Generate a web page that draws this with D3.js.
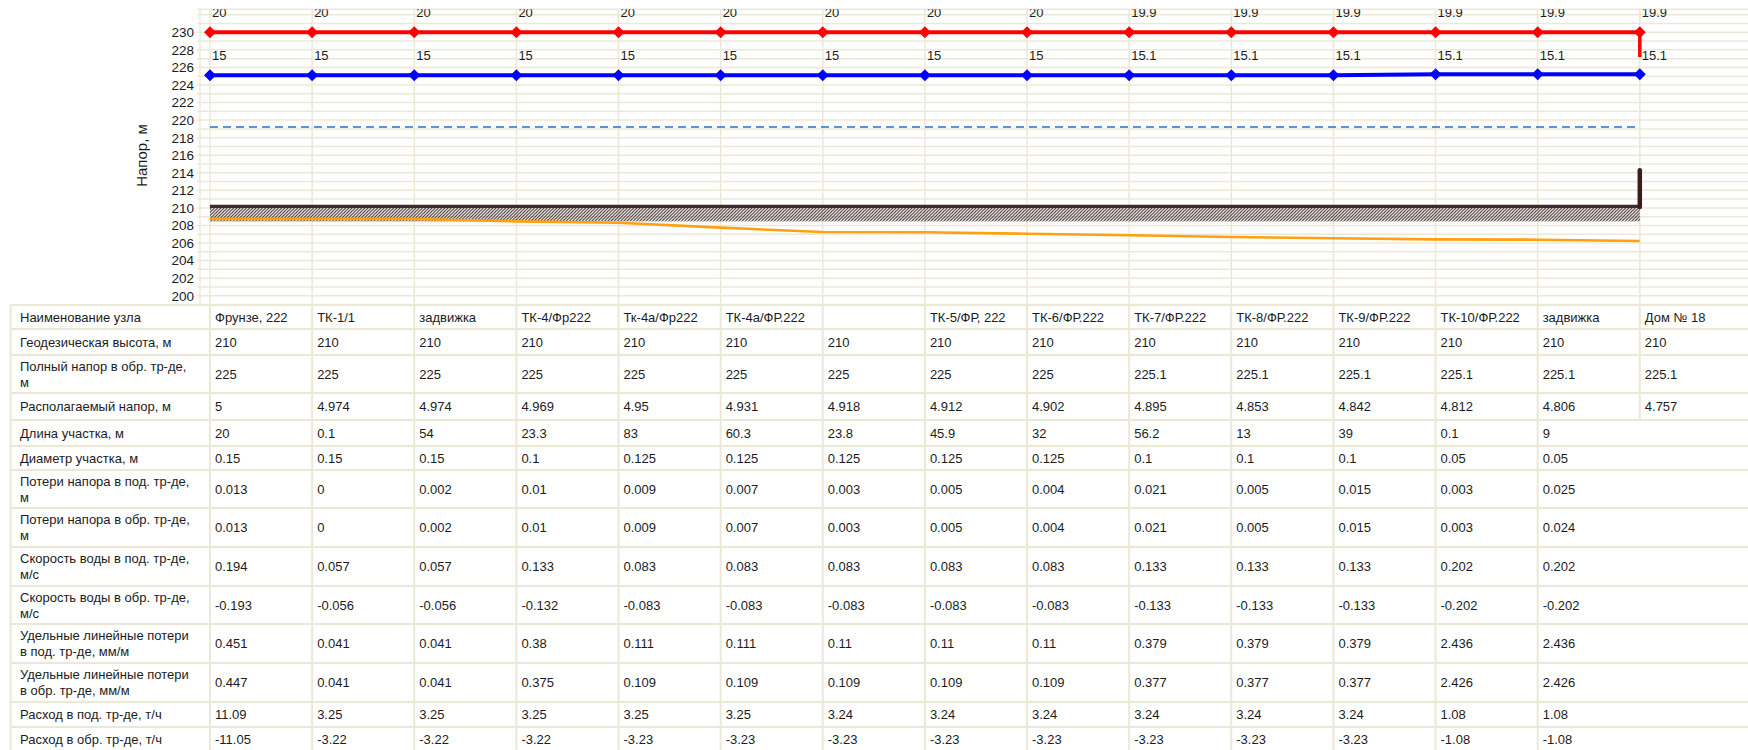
<!DOCTYPE html>
<html><head><meta charset="utf-8">
<script src="https://cdn.jsdelivr.net/npm/d3@7"></script>
<style>body{margin:0;background:#fff;overflow:hidden}svg{display:block;font-family:"Liberation Sans",Arial,sans-serif}</style>
</head><body><svg id="c" width="1748" height="750"></svg>
<script>
// ---------- DATA ----------
const nodeNames = ["Фрунзе, 222","ТК-1/1","задвижка","ТК-4/Фр222","Тк-4а/Фр222","ТК-4а/ФР.222","","ТК-5/ФР, 222","ТК-6/ФР.222","ТК-7/ФР.222","ТК-8/ФР.222","ТК-9/ФР.222","ТК-10/ФР.222","задвижка","Дом № 18"];
const supplyHead   = [230,230,230,230,230,230,230,230,230,230,230,230,230,230,230];
const supplyLabels = ["20","20","20","20","20","20","20","20","20","19.9","19.9","19.9","19.9","19.9","19.9"];
const supplyEndDrop = 227.2;
const returnHead   = [225.1,225.1,225.1,225.1,225.1,225.1,225.1,225.1,225.1,225.1,225.1,225.1,225.22,225.22,225.22];
const returnLabels = ["15","15","15","15","15","15","15","15","15","15.1","15.1","15.1","15.1","15.1","15.1"];
const staticHead   = 219.2;
const groundLevel  = [210,210,210,210,210,210,210,210,210,210,210,210,210,210,210];
const pipeLevel    = [208.74,208.74,208.74,208.47,208.31,207.75,207.25,207.22,207.06,206.88,206.69,206.54,206.42,206.38,206.23];
const buildingRiser = [210, 214.3];
const yTicks = [200,202,204,206,208,210,212,214,216,218,220,222,224,226,228,230];

const rowLabels = [
  ["Наименование узла"],
  ["Геодезическая высота, м"],
  ["Полный напор в обр. тр-де,","м"],
  ["Располагаемый напор, м"],
  ["Длина участка, м"],
  ["Диаметр участка, м"],
  ["Потери напора в под. тр-де,","м"],
  ["Потери напора в обр. тр-де,","м"],
  ["Скорость воды в под. тр-де,","м/с"],
  ["Скорость воды в обр. тр-де,","м/с"],
  ["Удельные линейные потери","в под. тр-де, мм/м"],
  ["Удельные линейные потери","в обр. тр-де, мм/м"],
  ["Расход в под. тр-де, т/ч"],
  ["Расход в обр. тр-де, т/ч"]
];
const geoHeight   = ["210","210","210","210","210","210","210","210","210","210","210","210","210","210","210"];
const fullHead    = ["225","225","225","225","225","225","225","225","225","225.1","225.1","225.1","225.1","225.1","225.1"];
const availHead   = ["5","4.974","4.974","4.969","4.95","4.931","4.918","4.912","4.902","4.895","4.853","4.842","4.812","4.806","4.757"];
const segLength   = ["20","0.1","54","23.3","83","60.3","23.8","45.9","32","56.2","13","39","0.1","9"];
const segDiameter = ["0.15","0.15","0.15","0.1","0.125","0.125","0.125","0.125","0.125","0.1","0.1","0.1","0.05","0.05"];
const lossSupply  = ["0.013","0","0.002","0.01","0.009","0.007","0.003","0.005","0.004","0.021","0.005","0.015","0.003","0.025"];
const lossReturn  = ["0.013","0","0.002","0.01","0.009","0.007","0.003","0.005","0.004","0.021","0.005","0.015","0.003","0.024"];
const velSupply   = ["0.194","0.057","0.057","0.133","0.083","0.083","0.083","0.083","0.083","0.133","0.133","0.133","0.202","0.202"];
const velReturn   = ["-0.193","-0.056","-0.056","-0.132","-0.083","-0.083","-0.083","-0.083","-0.083","-0.133","-0.133","-0.133","-0.202","-0.202"];
const specSupply  = ["0.451","0.041","0.041","0.38","0.111","0.111","0.11","0.11","0.11","0.379","0.379","0.379","2.436","2.436"];
const specReturn  = ["0.447","0.041","0.041","0.375","0.109","0.109","0.109","0.109","0.109","0.377","0.377","0.377","2.426","2.426"];
const flowSupply  = ["11.09","3.25","3.25","3.25","3.25","3.25","3.24","3.24","3.24","3.24","3.24","3.24","1.08","1.08"];
const flowReturn  = ["-11.05","-3.22","-3.22","-3.22","-3.23","-3.23","-3.23","-3.23","-3.23","-3.23","-3.23","-3.23","-1.08","-1.08"];
const rowValues = [nodeNames, geoHeight, fullHead, availHead, segLength, segDiameter, lossSupply, lossReturn, velSupply, velReturn, specSupply, specReturn, flowSupply, flowReturn];

// ---------- LAYOUT ----------
const W = 1748, H = 750;
const GRID = "#ece8d8", TXT = "#1c1c1c";
const plotTop = 9.3, tableTop = 305, tableLeft = 10.7;
const rowEdges = [305,329,355,393,420,446,470,508,547,586,624,663,702,727,752];

const svg = d3.select("#c");
const idx = d3.range(nodeNames.length);
const x = d3.scalePoint().domain(idx).range([210, 1639.8]);
const y = d3.scaleLinear().domain([200, 230]).range([295.7, 32.3]);

const defs = svg.append("defs");
defs.append("clipPath").attr("id","plotClip").append("rect")
  .attr("x",0).attr("y",plotTop).attr("width",W).attr("height",tableTop-plotTop);
const pat = defs.append("pattern").attr("id","hatch").attr("patternUnits","userSpaceOnUse")
  .attr("width",3.2).attr("height",3.2);
pat.append("path").attr("d","M-0.8,0.8 L0.8,-0.8 M0,3.2 L3.2,0 M2.4,4 L4,2.4")
  .attr("stroke","#3f2a2a").attr("stroke-width",1);

// horizontal grid (every 1 m) + top border
const gridVals = d3.range(199, 233, 1);
svg.append("g").selectAll("line").data(gridVals).join("line")
  .attr("x1",197).attr("x2",W).attr("y1",d=>y(d)).attr("y2",d=>y(d))
  .attr("stroke",GRID).attr("stroke-width",1.5);
svg.append("line").attr("x1",197).attr("x2",W).attr("y1",plotTop).attr("y2",plotTop)
  .attr("stroke",GRID).attr("stroke-width",1.5);
svg.append("line").attr("x1",200).attr("x2",200).attr("y1",plotTop).attr("y2",tableTop)
  .attr("stroke",GRID).attr("stroke-width",1.5);
svg.append("g").selectAll("line").data(idx).join("line")
  .attr("x1",d=>x(d)).attr("x2",d=>x(d)).attr("y1",plotTop).attr("y2",tableTop)
  .attr("stroke",GRID).attr("stroke-width",1.5);

// y tick labels
svg.append("g").selectAll("text").data(yTicks).join("text")
  .attr("x",194).attr("y",d=>y(d)).attr("dy","0.36em").attr("text-anchor","end")
  .attr("font-size",13.5).attr("fill",TXT).text(d=>d);
svg.append("text").attr("transform","translate(147,155.5) rotate(-90)")
  .attr("text-anchor","middle").attr("font-size",15).attr("fill",TXT).text("Напор, м");

// ---------- TABLE ----------
const tg = svg.append("g");
tg.selectAll("line.h").data(rowEdges.slice(0,-1)).join("line").attr("class","h")
  .attr("x1",tableLeft).attr("x2",W).attr("y1",d=>d).attr("y2",d=>d)
  .attr("stroke",GRID).attr("stroke-width",2);
tg.append("line").attr("x1",tableLeft).attr("x2",tableLeft).attr("y1",tableTop).attr("y2",H)
  .attr("stroke",GRID).attr("stroke-width",2);
idx.forEach(i=>{
  const yEnd = (i === idx.length-1) ? rowEdges[4] : H;
  tg.append("line").attr("x1",x(i)).attr("x2",x(i)).attr("y1",tableTop).attr("y2",yEnd)
    .attr("stroke",GRID).attr("stroke-width",2);
});
rowLabels.forEach((lines,r)=>{
  const cy = (rowEdges[r] + rowEdges[r+1]) / 2;
  const n = lines.length, lh = 16;
  lines.forEach((t,k)=>{
    tg.append("text").attr("x",20).attr("y",cy + (k-(n-1)/2)*lh).attr("dy","0.35em")
      .attr("font-size",13).attr("fill",TXT).text(t);
  });
  rowValues[r].forEach((v,i)=>{
    tg.append("text").attr("x",x(i)+5).attr("y",cy).attr("dy","0.35em")
      .attr("font-size",13).attr("fill",TXT).text(v);
  });
});

// ---------- PLOT ----------
const pg = svg.append("g").attr("clip-path","url(#plotClip)");
const line = d3.line().x((d,i)=>x(i)).y(d=>y(d));

pg.append("rect").attr("x",x(0)).attr("y",y(210)).attr("width",x(idx.length-1)-x(0)).attr("height",13.5)
  .attr("fill","url(#hatch)");
pg.append("path").datum(groundLevel).attr("d",d3.line().x((d,i)=>x(i)).y(d=>y(d)-1.5))
  .attr("fill","none").attr("stroke","#3e2a2a").attr("stroke-width",3.2);
pg.append("path").datum(pipeLevel).attr("d",line)
  .attr("fill","none").attr("stroke","#ffa010").attr("stroke-width",2.6);
pg.append("line").attr("x1",x(0)).attr("x2",x(idx.length-1)).attr("y1",y(staticHead)).attr("y2",y(staticHead))
  .attr("stroke","#2a6cd6").attr("stroke-width",1.5).attr("stroke-dasharray","8,5");
pg.append("line").attr("x1",x(idx.length-1)).attr("x2",x(idx.length-1))
  .attr("y1",y(buildingRiser[0])-1).attr("y2",y(buildingRiser[1]))
  .attr("stroke","#3a1e1e").attr("stroke-width",4.5).attr("stroke-linecap","round");

const diamond = {draw(ctx,size){const r=Math.sqrt(size/2);ctx.moveTo(0,-r);ctx.lineTo(r,0);ctx.lineTo(0,r);ctx.lineTo(-r,0);ctx.closePath();}};
const sym = d3.symbol().type(diamond).size(72);

pg.append("path").datum(returnHead).attr("d",line)
  .attr("fill","none").attr("stroke","#0000ff").attr("stroke-width",4);
pg.append("g").selectAll("path").data(returnHead).join("path")
  .attr("transform",(d,i)=>`translate(${x(i)},${y(d)})`).attr("d",sym).attr("fill","#0000ff");
pg.append("path").datum(supplyHead).attr("d",line)
  .attr("fill","none").attr("stroke","#ff0000").attr("stroke-width",4);
const last = idx.length-1;
pg.append("line").attr("x1",x(last)).attr("x2",x(last))
  .attr("y1",y(supplyHead[last])).attr("y2",y(supplyEndDrop))
  .attr("stroke","#ff0000").attr("stroke-width",3.5);
pg.append("g").selectAll("path").data(supplyHead).join("path")
  .attr("transform",(d,i)=>`translate(${x(i)},${y(d)})`).attr("d",sym).attr("fill","#ff0000");

pg.append("g").selectAll("text").data(supplyLabels).join("text")
  .attr("x",(d,i)=>x(i)+2).attr("y",(d,i)=>y(supplyHead[i])-15.6)
  .attr("font-size",13).attr("fill",TXT).text(d=>d);
pg.append("g").selectAll("text").data(returnLabels).join("text")
  .attr("x",(d,i)=>x(i)+2).attr("y",(d,i)=>y(returnHead[0])-15.3)
  .attr("font-size",13).attr("fill",TXT).text(d=>d);
</script></body></html>
